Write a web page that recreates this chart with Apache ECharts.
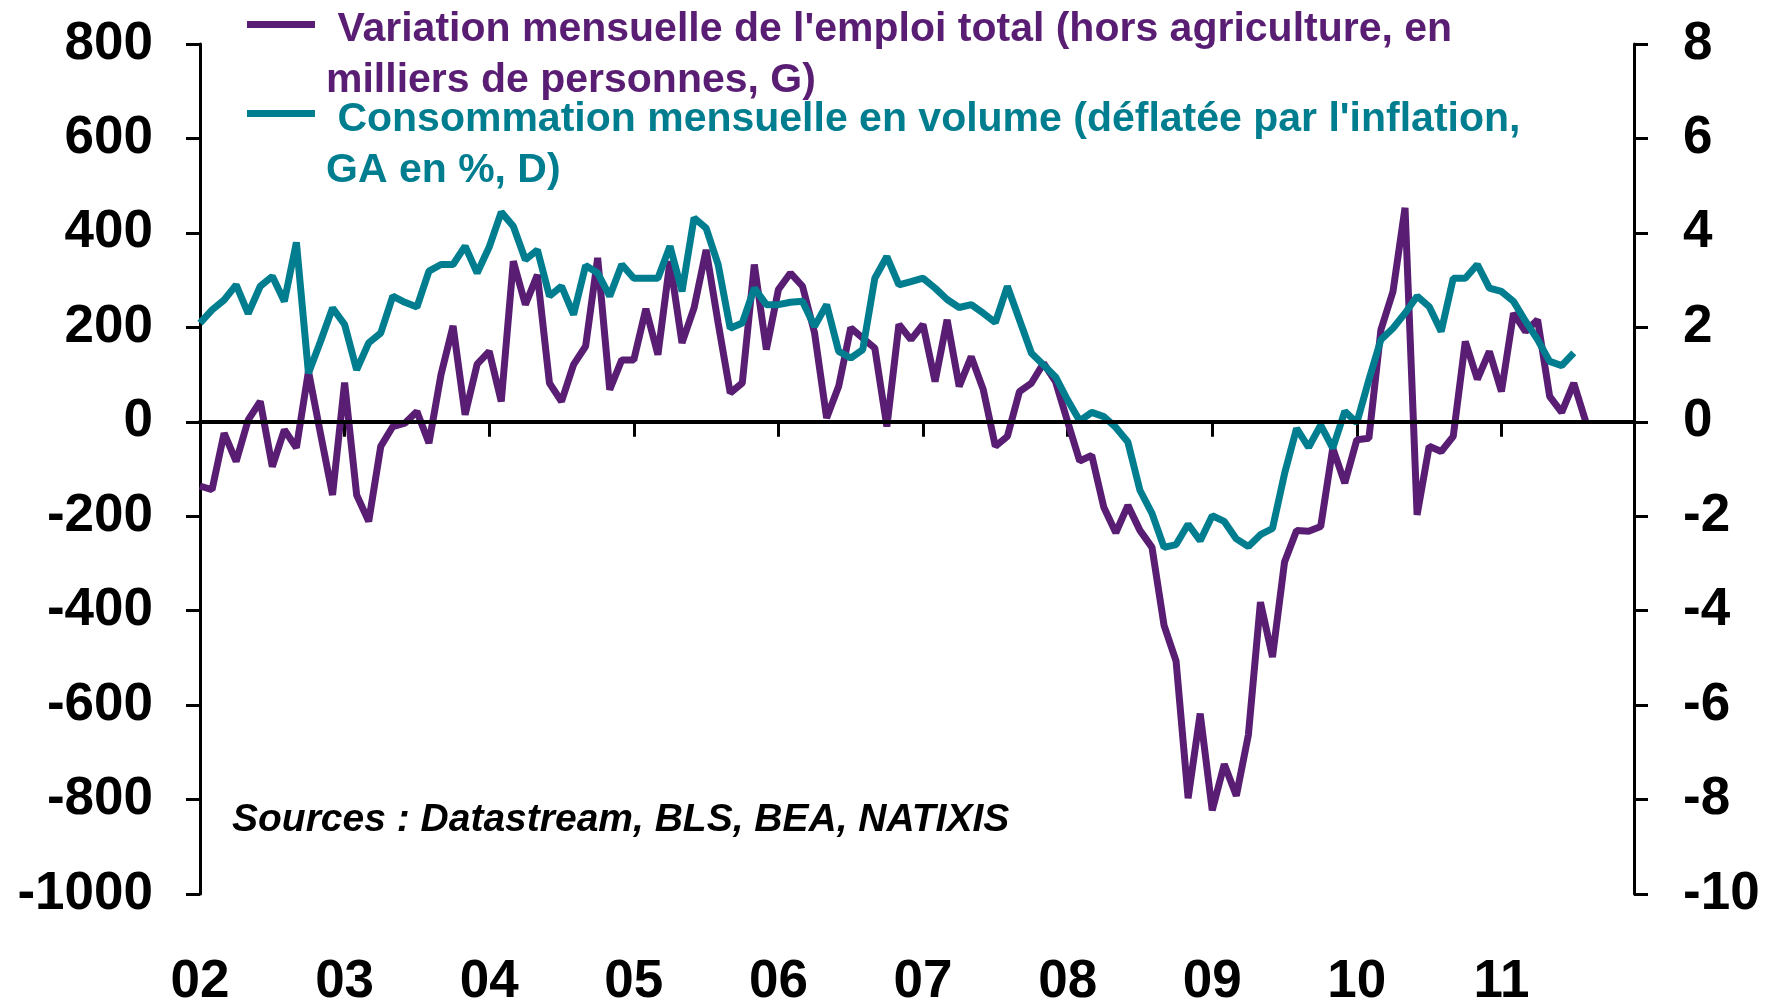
<!DOCTYPE html>
<html>
<head>
<meta charset="utf-8">
<script src="https://cdn.jsdelivr.net/npm/echarts@6/dist/echarts.min.js"></script>
<style>
html, body { margin: 0; padding: 0; background: #fff; }
#container { width: 1775px; height: 1004px; }
</style>
</head>
<body>
<div id="container"></div>
<script>
// annees affichees sous l'axe (une graduation par janvier)
var annees = ['02', '03', '04', '05', '06', '07', '08', '09', '10', '11'];

// variation mensuelle de l'emploi total hors agriculture (milliers, axe G), jan 2002 -> aout 2011
var emploi = [
    -136, -144, -24, -84, 4, 43, -95, -17, -55, 107, -25, -155,
    83, -155, -211, -52, -10, -3, 22, -45, 100, 203, 15, 122,
    149, 43, 340, 248, 311, 82, 43, 121, 160, 347, 68, 131,
    131, 239, 142, 340, 167, 241, 364, 209, 61, 82, 333, 153,
    280, 315, 287, 188, 8, 75, 199, 177, 156, -10, 206, 174,
    206, 85, 216, 75, 138, 68, -52, -31, 64, 82, 124, 85,
    0, -83, -71, -181, -235, -177, -230, -266, -431, -507, -797, -618,
    -823, -725, -792, -663, -382, -498, -297, -230, -232, -222, -56, -130,
    -38, -35, 195, 276, 453, -197, -52, -63, -31, 170, 90, 149,
    64, 230, 191, 216, 54, 20, 82, 0
];

// consommation mensuelle en volume, GA en % (axe D), jan 2002 -> juil 2011
var conso = [
    2.09, 2.37, 2.58, 2.90, 2.29, 2.87, 3.08, 2.55, 3.80, 1.03, 1.70, 2.41,
    2.06, 1.10, 1.67, 1.88, 2.66, 2.53, 2.43, 3.19, 3.33, 3.33, 3.72, 3.15,
    3.70, 4.44, 4.14, 3.43, 3.64, 2.66, 2.87, 2.27, 3.31, 3.15, 2.66, 3.33,
    3.04, 3.04, 3.04, 3.72, 2.76, 4.32, 4.10, 3.33, 1.98, 2.09, 2.83, 2.48,
    2.48, 2.53, 2.55, 2.02, 2.48, 1.49, 1.35, 1.53, 3.04, 3.50, 2.90, 2.97,
    3.04, 2.83, 2.59, 2.42, 2.48, 2.30, 2.10, 2.87, 2.16, 1.45, 1.20, 0.95,
    0.46, 0.02, 0.20, 0.11, -0.12, -0.43, -1.45, -1.94, -2.66, -2.60, -2.17, -2.52,
    -1.99, -2.11, -2.48, -2.64, -2.39, -2.26, -1.10, -0.14, -0.54, -0.07, -0.56, 0.22,
    -0.02, 0.89, 1.74, 1.98, 2.30, 2.66, 2.44, 1.91, 3.04, 3.04, 3.33, 2.83,
    2.76, 2.55, 2.13, 1.74, 1.28, 1.19, 1.46
];

var violet = '#591E73';
var bleu = '#007E8F';
var police = "'Liberation Sans', Arial, sans-serif";

// un point par mois, de janvier 2002 a decembre 2011
var mois = [];
for (var a = 0; a < annees.length; a++) {
    for (var m = 1; m <= 12; m++) {
        mois.push(annees[a] + '-' + m);
    }
}

function janvier(idx) {
    return idx % 12 === 0;
}

// pas de separateur de milliers sur les axes
function brut(v) {
    return String(v);
}

var dom = document.getElementById("container");
var myChart = echarts.init(dom, null, {renderer: 'canvas'});
var option = null;
option = {
    animation: false,
    backgroundColor: '#fff',
    grid: {
        left: 200,
        right: 141,
        top: 44,
        bottom: 110,
        containLabel: false,
        outerBoundsMode: 'none'
    },
    xAxis: {
        type: 'category',
        data: mois,
        boundaryGap: false,
        axisLine: {lineStyle: {color: '#000', width: 4}},
        axisTick: {show: true, interval: janvier, length: 15, lineStyle: {color: '#000', width: 3}},
        axisLabel: {
            interval: janvier,
            margin: 62,
            color: '#000',
            fontFamily: police,
            fontWeight: 'bold',
            fontSize: 53,
            formatter: function (v) { return v.split('-')[0]; }
        },
        splitLine: {show: false}
    },
    yAxis: [
        {
            type: 'value',
            min: -1000,
            max: 800,
            interval: 200,
            position: 'left',
            axisLine: {show: true, lineStyle: {color: '#000', width: 3}},
            axisTick: {show: true, length: 14, lineStyle: {color: '#000', width: 3}},
            axisLabel: {margin: 47, color: '#000', fontFamily: police, fontWeight: 'bold', fontSize: 53, formatter: brut},
            splitLine: {show: false}
        },
        {
            type: 'value',
            min: -10,
            max: 8,
            interval: 2,
            position: 'right',
            axisLine: {show: true, lineStyle: {color: '#000', width: 3}},
            axisTick: {show: true, length: 14, lineStyle: {color: '#000', width: 3}},
            axisLabel: {margin: 49, color: '#000', fontFamily: police, fontWeight: 'bold', fontSize: 53, formatter: brut},
            splitLine: {show: false}
        }
    ],
    series: [
        {
            name: 'emploi',
            type: 'line',
            yAxisIndex: 0,
            data: emploi,
            showSymbol: false,
            lineStyle: {color: violet, width: 7},
            itemStyle: {color: violet},
            markLine: {
                silent: true,
                symbol: 'none',
                label: {show: false},
                lineStyle: {color: '#000', width: 4, type: 'solid'},
                data: [{yAxis: 0}]
            }
        },
        {
            name: 'conso',
            type: 'line',
            yAxisIndex: 1,
            data: conso,
            showSymbol: false,
            lineStyle: {color: bleu, width: 7},
            itemStyle: {color: bleu}
        }
    ],
    // legende et source dessinees a la main
    graphic: [
        {type: 'rect', left: 247, top: 21, shape: {width: 68, height: 7}, style: {fill: violet}},
        {type: 'text', left: 326, top: 9, style: {text: " Variation mensuelle de l'emploi total (hors agriculture, en", fill: violet, font: 'bold 41px ' + police}},
        {type: 'text', left: 326, top: 60, style: {text: "milliers de personnes, G)", fill: violet, font: 'bold 41px ' + police}},
        {type: 'rect', left: 247, top: 110, shape: {width: 68, height: 7}, style: {fill: bleu}},
        {type: 'text', left: 326, top: 99, style: {text: " Consommation mensuelle en volume (déflatée par l'inflation,", fill: bleu, font: 'bold 41px ' + police}},
        {type: 'text', left: 326, top: 150, style: {text: "GA en %, D)", fill: bleu, font: 'bold 41px ' + police}},
        {type: 'text', left: 232, top: 801, style: {text: "Sources : Datastream, BLS, BEA, NATIXIS", fill: '#000', font: 'italic bold 39px ' + police}}
    ]
};
if (option && typeof option === "object") {
    myChart.setOption(option, true);
}
</script>
</body>
</html>
